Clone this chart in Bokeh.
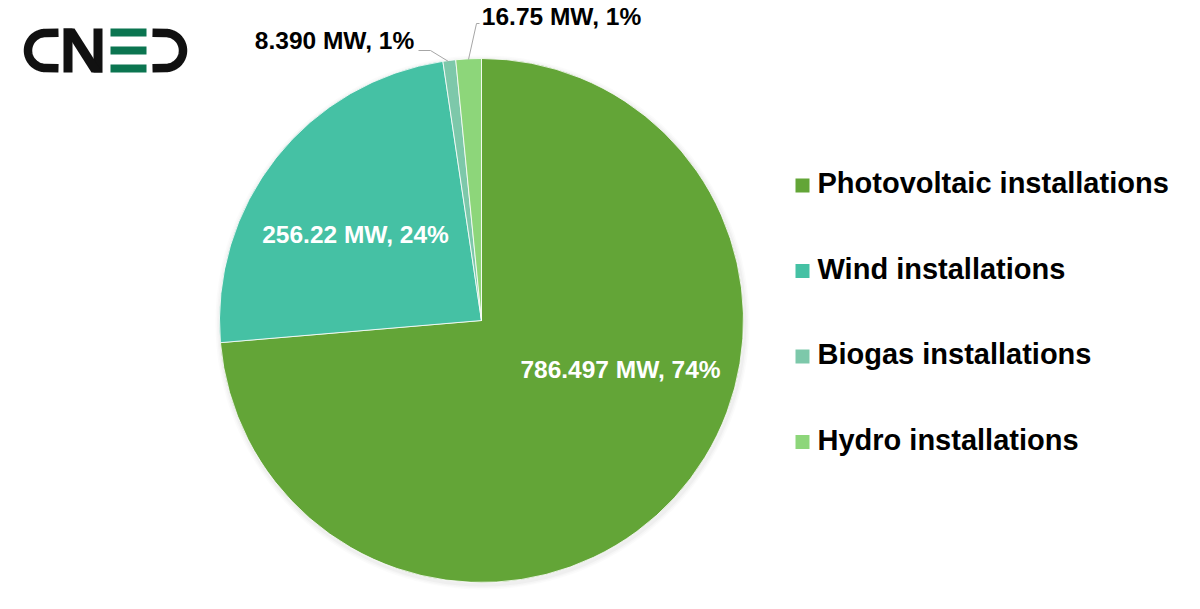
import numpy as np
from bokeh.plotting import figure
from bokeh.models import Range1d, ColumnDataSource
from bokeh.core.properties import value
from bokeh.embed import file_html
from bokeh.resources import INLINE

# ---- data ----
categories = ["Photovoltaic installations", "Wind installations", "Biogas installations", "Hydro installations"]
capacity_mw = [786.497, 256.22, 8.390, 16.75]
value_labels = ["786.497", "256.22", "8.390", "16.75"]
percent_labels = ["74%", "24%", "1%", "1%"]
colors = ["#63A537", "#45C1A4", "#7DC8AA", "#8DD67A"]

# ---- layout (image pixel coords, y downward) ----
W, H = 1184, 593
def Y(iy):
    return 609 - iy

TXT_OFF = 9.5  # correction for rendered text baseline
CX, CY, R = 481, 320, 262
label_pos = [(620, 378), (355, 243), (334, 49), (561, 25)]
label_color = ["white", "white", "#000000", "#000000"]
leaders = {2: [(418, 50), (430, 50), (448, 61)], 3: [(479, 23), (476, 23), (468, 59)]}
legend_x_sq, legend_x_txt = 802, 817
legend_baselines = [192, 277.5, 363, 448.5]
legend_sq_centers = [185, 270.5, 356, 441.5]
FONT = "Liberation Sans"

p = figure(width=W, height=H, output_backend="svg", toolbar_location=None,
           x_range=Range1d(0, 1184), y_range=Range1d(16, 609),
           x_axis_type=None, y_axis_type=None, min_border=0,
           background_fill_color="white", border_fill_color="white")
p.outline_line_color = None
p.grid.visible = False

# soft shadow
for k, a in [(5, 0.03), (3.5, 0.04), (2, 0.06)]:
    p.circle(x=CX + 1, y=Y(CY + 2), radius=R + k, fill_color="#808080", fill_alpha=a, line_color=None)

vals = np.array(capacity_mw, dtype=float)
frac = vals / vals.sum()
cum = np.concatenate([[0], np.cumsum(frac)])
start = np.pi / 2 - 2 * np.pi * cum[:-1]
end = np.pi / 2 - 2 * np.pi * cum[1:]
src = ColumnDataSource(dict(start=start, end=end, color=colors))
p.wedge(x=CX, y=Y(CY), radius=R, start_angle="start", end_angle="end", direction="clock",
        fill_color="color", line_color="white", line_width=0.8, source=src)

# leader lines
for i, pts in leaders.items():
    p.line([q[0] for q in pts], [Y(q[1]) for q in pts], line_color="#A6A6A6", line_width=1)

# data labels
texts = [f"{v} MW, {pc}" for v, pc in zip(value_labels, percent_labels)]
p.text(x=[q[0] for q in label_pos], y=[Y(q[1] - TXT_OFF) for q in label_pos], text=texts,
       text_color=label_color, text_font=value(FONT), text_font_style="bold",
       text_font_size="24.5px", text_align="center", text_baseline="alphabetic")

# legend
p.rect(x=[legend_x_sq] * 4, y=[Y(c) for c in legend_sq_centers], width=14, height=14,
       fill_color=colors, line_color=None)
p.text(x=[legend_x_txt] * 4, y=[Y(b - TXT_OFF) for b in legend_baselines], text=categories,
       text_color="#000000", text_font=value(FONT), text_font_style="bold",
       text_font_size="29px", text_align="left", text_baseline="alphabetic")

# ---- CNED logo ----
DARK, GREEN, SW = "#111111", "#0B7550", 8.5
th = np.linspace(np.pi / 2, 3 * np.pi / 2, 40)
cr = 17.5
cxc, cyc = 45, 50
cxs = np.concatenate([[58], cxc + cr * np.cos(th), [58]])
cys = np.concatenate([[32.2], cyc - cr * np.sin(th), [67.8]])
p.line(cxs, [Y(v) for v in cys], line_color=DARK, line_width=SW, line_join="round")
th2 = np.linspace(np.pi / 2, -np.pi / 2, 40)
dxc = 165
dxs = np.concatenate([[152], dxc + cr * np.cos(th2), [152]])
dys = np.concatenate([[32.2], cyc - cr * np.sin(th2), [67.8]])
p.line(dxs, [Y(v) for v in dys], line_color=DARK, line_width=SW, line_join="round")
# N
p.patch([63, 72, 72, 63], [Y(v) for v in [28, 28, 72, 72]], fill_color=DARK, line_color=None)
p.patch([93, 102, 102, 93], [Y(v) for v in [28, 28, 72, 72]], fill_color=DARK, line_color=None)
p.patch([63, 74, 102, 91], [Y(v) for v in [28, 28, 72, 72]], fill_color=DARK, line_color=None)
# E bars
p.rect(x=[128] * 3, y=[Y(32), Y(50), Y(68)], width=36, height=8, fill_color=GREEN, line_color=None)

open("out.html", "w").write(file_html(p, INLINE))
